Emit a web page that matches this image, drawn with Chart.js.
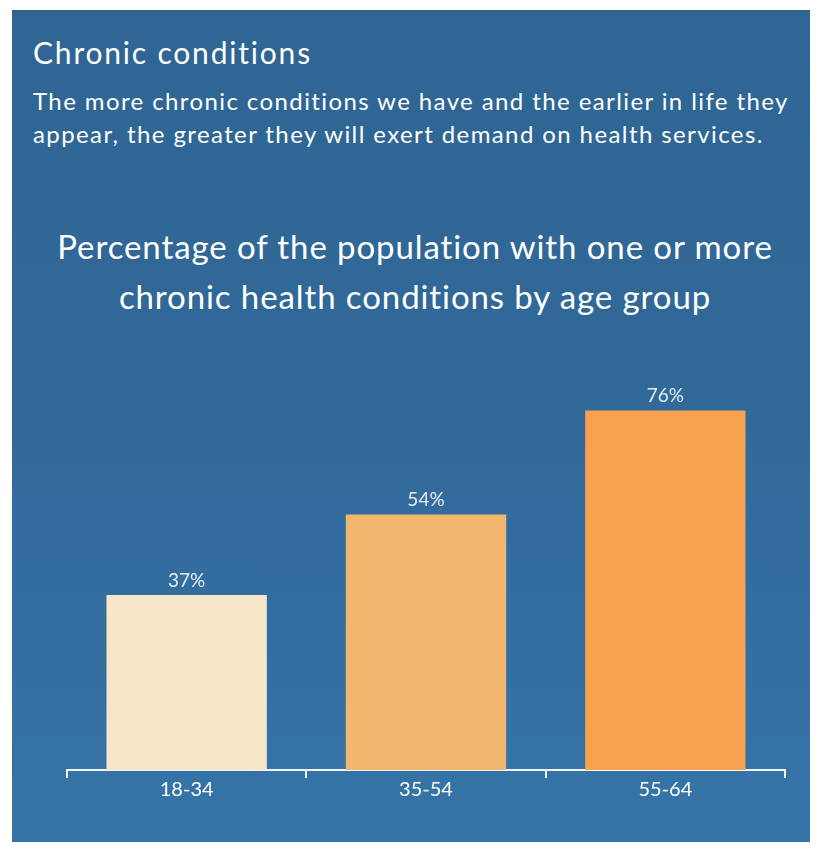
<!DOCTYPE html>
<html>
<head>
<meta charset="utf-8">
<script src="https://cdn.jsdelivr.net/npm/chart.js@4.4.1/dist/chart.umd.min.js"></script>
<style>
    html, body { margin: 0; padding: 0; background: #ffffff; }
    body { width: 816px; height: 846px; position: relative; overflow: hidden; font-family: Lato, "Noto Sans", sans-serif; }
    #slide {
        position: absolute; left: 12px; top: 10px; width: 798px; height: 832px;
        background: linear-gradient(180deg, #2e6593 0%, #31699a 50%, #3674a8 100%);
    }
    #heading { position: absolute; left: 33px; top: 35px; color: #fff; font-size: 30px; line-height: 34px; letter-spacing: 1.8px; }
    #intro { position: absolute; left: 33px; top: 84px; color: #fff; font-size: 24px; line-height: 33px; width: 790px; letter-spacing: 1.4px; white-space: nowrap; }
    #chartTitle { position: absolute; left: 0; width: 830px; top: 221px; text-align: center; color: #fff; font-size: 33px; line-height: 50px; letter-spacing: 0.9px; }
    #chartWrap { position: absolute; left: 0; top: 0; width: 816px; height: 846px; }
</style>
</head>
<body>
<div id="slide"></div>
<div id="heading">Chronic conditions</div>
<div id="intro">The more chronic conditions we have and the earlier in life they<br>appear, the greater they will exert demand on health services.</div>
<div id="chartTitle">Percentage of the population with one or more<br>chronic health conditions by age group</div>
<div id="chartWrap"><canvas id="ageChart"></canvas></div>
<script>
// Data
const ageGroups = ['18-34', '35-54', '55-64'];
const percentWithCondition = [37, 54, 76];
const barColours = ['#f8e6c8', '#f2b66e', '#f8a14e'];

// Draws the "37%" style labels above each bar
const valueLabels = {
    id: 'valueLabels',
    afterDatasetsDraw(chart) {
        const ctx = chart.ctx;
        const meta = chart.getDatasetMeta(0);
        ctx.save();
        ctx.fillStyle = '#e8eef5';
        ctx.font = '19px Lato, "Noto Sans", sans-serif';
        ctx.textAlign = 'center';
        ctx.textBaseline = 'bottom';
        meta.data.forEach((bar, i) => {
            ctx.fillText(percentWithCondition[i] + '%', bar.x, bar.y - 5);
        });
        ctx.restore();
    }
};

const ctx = document.getElementById('ageChart').getContext('2d');
new Chart(ctx, {
    type: 'bar',
    data: {
        labels: ageGroups,
        datasets: [{
            data: percentWithCondition,
            backgroundColor: barColours,
            borderWidth: 0,
            categoryPercentage: 0.67,
            barPercentage: 1.0
        }]
    },
    options: {
        responsive: true,
        maintainAspectRatio: false,
        animation: false,
        layout: { padding: { left: 67, right: 31, top: 297, bottom: 44 } },
        plugins: {
            legend: { display: false },
            tooltip: { enabled: false }
        },
        scales: {
            x: {
                grid: {
                    offset: true,
                    drawOnChartArea: false,
                    drawTicks: true,
                    tickLength: 8,
                    color: '#f2f5f8',
                    lineWidth: 2
                },
                border: { display: true, color: '#f2f5f8', width: 2 },
                ticks: {
                    color: '#ffffff',
                    padding: 0,
                    font: { family: 'Lato, "Noto Sans", sans-serif', size: 20 }
                }
            },
            y: {
                display: false,
                min: 0,
                max: 100
            }
        }
    },
    plugins: [valueLabels]
});
</script>
</body>
</html>
